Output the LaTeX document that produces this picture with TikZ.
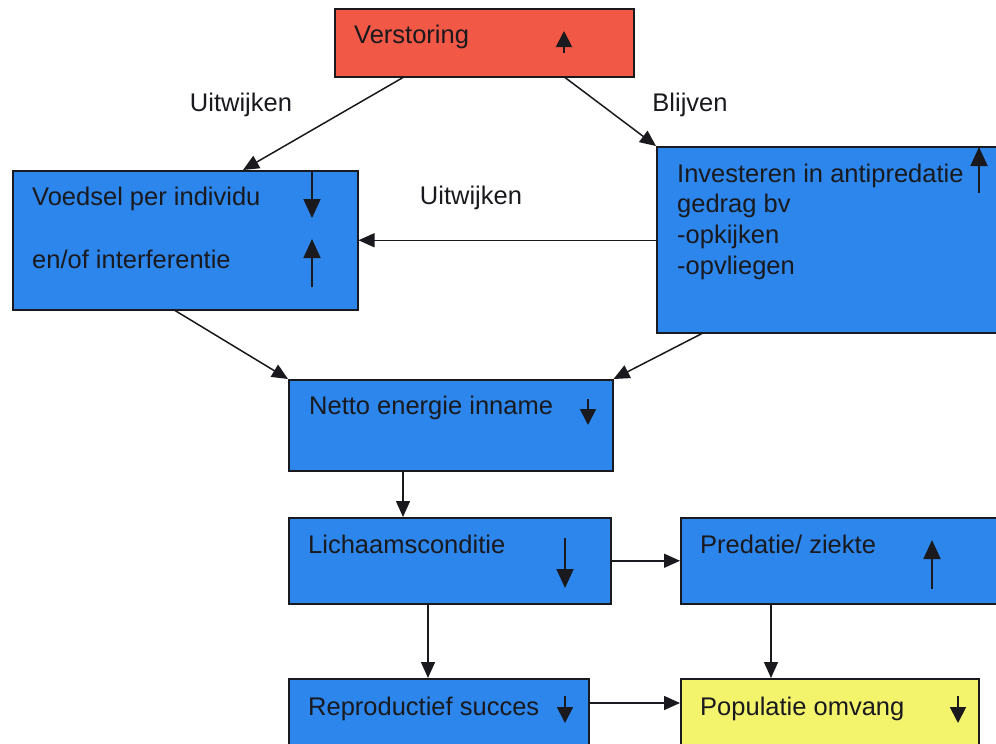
\documentclass[tikz,border=0pt]{standalone}
\usepackage{fontspec}
\setmainfont{Liberation Sans}
\usetikzlibrary{arrows.meta,calc}
\definecolor{boxblue}{RGB}{44,134,236}
\definecolor{boxred}{RGB}{242,88,70}
\definecolor{boxyellow}{RGB}{244,244,108}
\definecolor{ink}{RGB}{25,25,30}
\begin{document}
\begin{tikzpicture}[x=1pt,y=-1pt,
  box/.style={draw=ink, line width=1.5pt, rectangle, anchor=north west, inner sep=0pt},
  lbl/.style={font=\fontsize{25.5}{30}\selectfont, inner sep=0pt, anchor=base west, text=ink},
  clbl/.style={font=\fontsize{25.5}{30}\selectfont, inner sep=0pt, anchor=base, text=ink},
  conn/.style={draw=ink, line width=1.5pt, -{Triangle[width=14pt,length=16pt]}},
  trend/.style={draw=ink, line width=1.8pt, -{Triangle[width=17pt,length=19pt]}},
  strend/.style={draw=ink, line width=1.8pt, -{Triangle[width=16pt,length=16pt]}}]
\useasboundingbox (0,0) rectangle (996,744);
\clip (0,0) rectangle (996,744);
\fill[white] (0,0) rectangle (996,744);

% boxes
\node[box, fill=boxred, minimum width=299pt, minimum height=68pt] (vers) at (334,8) {};
\node[box, fill=boxblue, minimum width=345pt, minimum height=139pt] (voed) at (12,170) {};
\node[box, fill=boxblue, minimum width=360pt, minimum height=186pt] (inv) at (656,146) {};
\node[box, fill=boxblue, minimum width=324pt, minimum height=91pt] (netto) at (288,379) {};
\node[box, fill=boxblue, minimum width=322pt, minimum height=86pt] (lich) at (288,517) {};
\node[box, fill=boxblue, minimum width=340pt, minimum height=86pt] (pred) at (680,517) {};
\node[box, fill=boxblue, minimum width=300pt, minimum height=90pt] (repr) at (288,678) {};
\node[box, fill=boxyellow, minimum width=298pt, minimum height=90pt] (pop) at (680,678) {};

% texts
\node[lbl] (tvers) at (354,43) {Verstoring};
\node[lbl] (tvoed1) at (32,205) {Voedsel per individu};
\node[lbl] (tvoed2) at (32,268) {en/of interferentie};
\node[lbl] (tinv1) at (677,182) {Investeren in antipredatie};
\node[lbl] (tinv2) at (677,212) {gedrag bv};
\node[lbl] (tinv3) at (677,243) {-opkijken};
\node[lbl] (tinv4) at (677,274) {-opvliegen};
\node[lbl] (tnetto) at (309,414) {Netto energie inname};
\node[lbl] (tlich) at (308,553) {Lichaamsconditie};
\node[lbl] (tpred) at (700,553) {Predatie/ ziekte};
\node[lbl] (trepr) at (308,715) {Reproductief succes};
\node[lbl] (tpop) at (700,715) {Populatie omvang};

% edge labels
\node[clbl] (l1) at (241,111) {Uitwijken};
\node[clbl] (l2) at (690,111) {Blijven};
\node[clbl] (l3) at (471,204) {Uitwijken};

% connectors
\draw[conn] ($(vers.south west)+(69,0)$) -- ($(voed.north west)+(231,0)$);
\draw[conn] ($(vers.south west)+(231,0)$) -- (inv.north west);
\draw[conn] (inv.west |- voed.east) -- (voed.east);
\draw[conn] ($(voed.south west)+(163,0)$) -- (netto.north west);
\draw[conn] ($(inv.south west)+(46,0)$) -- (netto.north east);
\draw[conn] ($(netto.south west)+(115,0)$) -- ($(lich.north west)+(115,0)$);
\draw[conn] (lich.east) -- (lich.east -| pred.west);
\draw[conn] ($(lich.south west)+(140,0)$) -- ($(repr.north west)+(140,0)$);
\draw[conn] ($(pred.south west)+(91,0)$) -- ($(pop.north west)+(91,0)$);
\draw[conn] ($(repr.north east)+(0,25)$) -- ($(pop.north west)+(0,25)$);

% trend arrows
\draw[strend] (564,53) -- (564,31);
\draw[trend] (312,171) -- (312,218);
\draw[trend] (312,287) -- (312,239);
\draw[trend] (979,193) -- (979,147);
\draw[strend] (588,399) -- (588,425);
\draw[trend] (565,538) -- (565,588);
\draw[trend] (932,589) -- (932,540);
\draw[strend] (565,696) -- (565,723);
\draw[strend] (958,696) -- (958,723);
\end{tikzpicture}
\end{document}
